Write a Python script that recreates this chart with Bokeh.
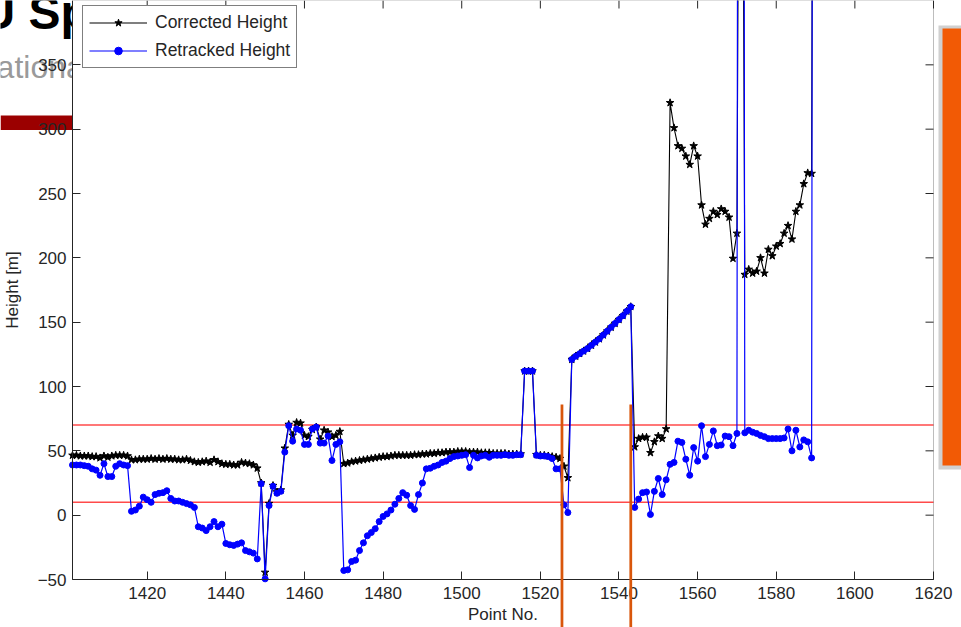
from bokeh.plotting import figure
from bokeh.models import (Range1d, FixedTicker, BoxAnnotation, Label, Legend,
                          LegendItem, ColumnDataSource)
from bokeh.embed import file_html
from bokeh.resources import INLINE

# ---- data -------------------------------------------------------------
point_no = list(range(1401, 1591))

corrected_height = [
    46.5, 46.5, 46, 46, 46, 45.5, 45.5, 44.5, 46, 45,            # 1401-1410
    46, 46.5, 46.5, 46.5, 46, 43, 43, 43.5, 43.5, 43.5,          # 1411-1420
    44, 43.5, 44, 43.5, 44, 43.5, 43.5, 43, 43, 43.5,            # 1421-1430
    42.5, 41.5, 41, 41.5, 42, 41, 43, 41.5, 40, 39.5,            # 1431-1440
    39.5, 39, 39, 41, 40.5, 40, 39, 36.5, 25, -44.5,             # 1441-1450
    9, 23, 18, 19.5, 52, 70.5, 62, 72, 71.5, 62,                 # 1451-1460
    61, 66.5, 68.5, 59, 66, 64.5, 61, 62, 65, 40,                # 1461-1470
    40.5, 41.5, 42, 42.5, 43, 43.5, 44, 44.5, 45, 45.5,          # 1471-1480
    45.5, 46, 46.5, 46.5, 46.5, 46.5, 46.5, 47, 47, 47.5,        # 1481-1490
    47.5, 48, 48, 48.5, 48.5, 49, 49, 49, 49.5, 49.5,            # 1491-1500
    49.5, 49, 49, 49, 48.5, 48.5, 48.5, 48, 48, 48,              # 1501-1510
    48, 47.5, 47.5, 47.5, 47.5, 112, 112, 112, 47, 46.5,         # 1511-1520
    46.5, 46, 45.5, 45, 44, 38, 29, 121, 123.5, 125.5,           # 1521-1530
    127.5, 129.5, 132, 134.5, 137, 140, 143, 146, 149, 152,      # 1531-1540
    155, 158.5, 162, 53, 59.5, 60.5, 60.5, 48.5, 57, 61.5,       # 1541-1550
    59.5, 67, 320.5, 301, 287, 285, 279, 272.5, 287, 279,        # 1551-1560
    241, 226, 230.5, 236, 233.5, 238, 236, 231.5, 199.5, 219,    # 1561-1570
    900, 187, 191, 188, 189.5, 200, 188, 206.5, 201.5, 209,      # 1571-1580
    211, 219, 225, 214.5, 236, 241, 257.5, 266, 265.5, 1400,     # 1581-1590
]

retracked_height = [
    39, 39, 39, 38.5, 38, 36, 35, 31, 40, 30,                    # 1401-1410
    30, 38, 40, 39, 38.5, 3, 4, 7, 14, 12,                       # 1411-1420
    10, 16, 17, 17.5, 19, 13, 11, 11, 10, 9,                     # 1421-1430
    8, 6, -9, -10, -12, -9, -5, -9, -7, -22,                     # 1431-1440
    -23, -23.5, -22.5, -21.5, -27.5, -28.5, -29.5, -34, 24.5, -49.5,  # 1441-1450
    7.5, 22.5, 17, 18.5, 49, 69.5, 57.5, 67, 66, 55,             # 1451-1460
    55, 67, 68.5, 56, 56, 61.5, 42.5, 55, 57, -43,               # 1461-1470
    -42.5, -36, -35, -27.5, -21.5, -16, -13.5, -10.5, -5, -1,    # 1471-1480
    1, 4, 8.5, 13, 17.5, 15.5, 7.5, 4.5, 16, 25,                 # 1481-1490
    36, 36.5, 38, 39, 41, 42, 44, 45.5, 46, 46.5,                # 1491-1500
    47, 37, 46.5, 44.5, 46, 46.5, 45, 46.5, 46.5, 46.5,          # 1501-1510
    47, 46.5, 46.5, 47, 47, 112, 112, 112, 46.5, 46,             # 1511-1520
    46, 45.5, 44, 36, 36, 8, 2, 121, 123.5, 125.5,               # 1521-1530
    127.5, 129.5, 132, 134.5, 137, 140, 143, 146, 149, 152,      # 1531-1540
    155, 158.5, 162, 6, 12.5, 17.5, 18, 0.5, 18.5, 28.5,         # 1541-1550
    16, 27.5, 39.5, 41, 57.5, 56.5, 43.5, 31, 52.5, 42,          # 1551-1560
    69.5, 45.5, 55, 65.5, 54, 54.5, 61.5, 61, 54, 63.5,          # 1561-1570
    2600, 64, 66, 64.5, 63.5, 62, 61, 59.5, 59.5, 59.5,          # 1571-1580
    59.5, 60, 67, 50, 66, 53, 58.5, 57, 44.5, 2600,              # 1581-1590
]

x_ticks = [1420, 1440, 1460, 1480, 1500, 1520, 1540, 1560, 1580, 1600, 1620]
y_ticks = [-50, 0, 50, 100, 150, 200, 250, 300, 350]
x_limits = (1401, 1620)
y_limits = (-50, 400)
height_limits = [10, 70]          # acceptance band
segment_marks = [1525.5, 1543.0]  # section boundaries

FONT = "Liberation Sans"
AXIS_COLOR = "#262626"

# ---- page geometry (pixels) ------------------------------------------
W, H = 961, 627
AX_LEFT, AX_RIGHT, AX_TOP, AX_BOTTOM = 72, 933, 0, 579
TICK_LEN = 8

# The frame fills the whole page; the axes box sits inside it so the
# slide backdrop around the chart can be drawn on the same canvas.
px_x = (AX_RIGHT - AX_LEFT) / (x_limits[1] - x_limits[0])
px_y = (AX_BOTTOM - AX_TOP) / (y_limits[1] - y_limits[0])
x_range = Range1d(x_limits[0] - AX_LEFT / px_x, x_limits[1] + (W - AX_RIGHT) / px_x)
y_range = Range1d(y_limits[0] - (H - AX_BOTTOM) / px_y, y_limits[1] + AX_TOP / px_y)

p = figure(width=W, height=H, x_range=x_range, y_range=y_range,
           output_backend="svg", toolbar_location=None,
           min_border=0, background_fill_color="white",
           border_fill_color="white", outline_line_color=None)
p.grid.visible = False


def scr(canvas_x, canvas_y):
    """Page pixel position -> screen units of the frame (origin bottom-left)."""
    return canvas_x, H - canvas_y


def screen_box(x0, y0, x1, y1, **kw):
    left, top = scr(x0, y0)
    right, bottom = scr(x1, y1)
    return BoxAnnotation(left=left, right=right, top=top, bottom=bottom,
                         left_units="screen", right_units="screen",
                         top_units="screen", bottom_units="screen",
                         line_alpha=0, fill_alpha=1, **kw)


def slide_text(text, x, y_bottom, size, color, style="normal"):
    sx_, sy_ = scr(x, y_bottom)
    return Label(x=sx_, y=sy_, x_units="screen", y_units="screen", text=text,
                 text_font=FONT, text_font_style=style, text_font_size=size,
                 text_color=color, text_baseline="bottom", level="image")


# ---- slide backdrop ---------------------------------------------------
p.add_layout(slide_text("DTU Space", -84, 38, "48px", "black", "bold"))
p.add_layout(slide_text("National Space Institute", -27, 84, "32px", "#9a9a9a"))
p.add_layout(screen_box(0, 115, AX_LEFT, 129.5, fill_color="#9b0000", level="image"))
p.add_layout(screen_box(938, 25, 962, 469, fill_color="#d0d0d0", level="image"))
p.add_layout(screen_box(942, 28, 962, 465, fill_color="#f25a05", level="image"))

# white axes area over the backdrop
p.add_layout(BoxAnnotation(left=x_limits[0], right=x_limits[1],
                           bottom=y_limits[0], top=y_limits[1],
                           fill_color="white", fill_alpha=1, line_alpha=0,
                           level="image"))

# ---- threshold lines --------------------------------------------------
p.segment(x0=[x_limits[0]] * 2, x1=[x_limits[1]] * 2, y0=height_limits, y1=height_limits,
          line_color="#ff4a4a", line_width=1.5, level="underlay")

# ---- series -----------------------------------------------------------
source = ColumnDataSource(dict(point_no=point_no,
                               corrected=corrected_height,
                               retracked=retracked_height))
l_corr = p.line("point_no", "corrected", source=source, line_color="black", line_width=1.1)
s_corr = p.scatter("point_no", "corrected", source=source, marker="star", size=8,
                   fill_color="black", line_color="black")
l_retr = p.line("point_no", "retracked", source=source, line_color="#0000ff", line_width=1.2)
s_retr = p.scatter("point_no", "retracked", source=source, marker="circle", size=6,
                   fill_color="#0000ff", line_color="#0000ff")

# ---- section markers --------------------------------------------------
for xm in segment_marks:
    _, top = scr(0, 404)
    p.add_layout(BoxAnnotation(left=xm - 0.35, right=xm + 0.35, top=top, bottom=0,
                               top_units="screen", bottom_units="screen",
                               fill_color="#d9560b", fill_alpha=1, line_alpha=0,
                               level="overlay"))

# ---- axes -------------------------------------------------------------
def style_axis(ax):
    ax.major_tick_in = TICK_LEN
    ax.major_tick_out = 0
    ax.minor_tick_in = 0
    ax.minor_tick_out = 0
    ax.axis_line_color = AXIS_COLOR
    ax.major_tick_line_color = AXIS_COLOR
    ax.major_label_text_font = FONT
    ax.major_label_text_font_size = "17px"
    ax.major_label_text_color = AXIS_COLOR
    ax.axis_label_text_font = FONT
    ax.axis_label_text_font_style = "normal"
    ax.axis_label_text_color = AXIS_COLOR
    ax.axis_label_text_font_size = "17px"


xa = p.xaxis[0]
xa.ticker = FixedTicker(ticks=x_ticks)
xa.fixed_location = y_limits[0]
xa.bounds = x_limits
xa.axis_label = "Point No."
style_axis(xa)
xa.major_label_standoff = 7
xa.axis_label_standoff = 3

ya = p.yaxis[0]
ya.ticker = FixedTicker(ticks=y_ticks)
ya.fixed_location = x_limits[0]
ya.bounds = y_limits
ya.axis_label = "Height [m]"
style_axis(ya)
ya.major_label_standoff = 6
ya.axis_label_standoff = 13

# box edges on the top and right, with inward ticks
p.add_layout(BoxAnnotation(left=x_limits[0], right=x_limits[1],
                           bottom=y_limits[0], top=y_limits[1],
                           fill_alpha=0, line_color=AXIS_COLOR, line_width=1,
                           level="guide"))
p.segment(x0=x_ticks, x1=x_ticks, y0=[y_limits[1]] * len(x_ticks),
          y1=[y_limits[1] - TICK_LEN / px_y] * len(x_ticks),
          line_color=AXIS_COLOR, line_width=1)
p.segment(x0=[x_limits[1]] * len(y_ticks), x1=[x_limits[1] - TICK_LEN / px_x] * len(y_ticks),
          y0=y_ticks, y1=y_ticks, line_color=AXIS_COLOR, line_width=1)

# ---- legend -----------------------------------------------------------
lx, ly = scr(82, 68)
legend = Legend(items=[LegendItem(label="Corrected Height", renderers=[l_corr, s_corr]),
                       LegendItem(label="Retracked Height", renderers=[l_retr, s_retr])],
                location=(lx, ly),
                label_text_font=FONT, label_text_font_size="17.5px",
                label_text_color=AXIS_COLOR,
                glyph_width=58, glyph_height=19, label_height=19,
                label_standoff=8, padding=6, spacing=7, margin=0,
                border_line_color="black", border_line_width=1,
                background_fill_color="white", background_fill_alpha=1)
p.add_layout(legend)

open("out.html", "w").write(file_html(p, INLINE))
